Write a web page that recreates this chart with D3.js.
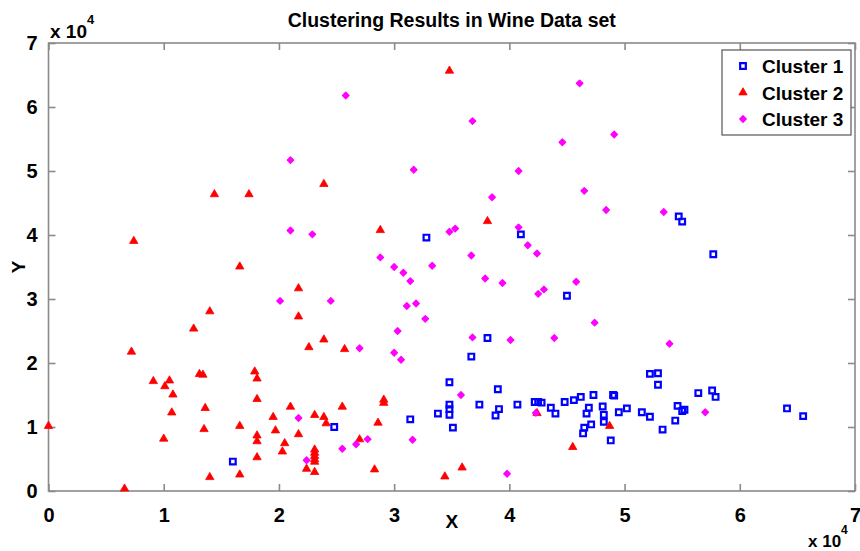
<!DOCTYPE html>
<html>
<head>
<meta charset="utf-8">
<script src="https://cdn.jsdelivr.net/npm/d3@7"></script>
<style>
  body { margin: 0; background: #fff; }
  text { font-family: "Liberation Sans", Arial, sans-serif; font-weight: bold; fill: #000; }
</style>
</head>
<body>
<div id="chart"></div>
<script>
// values in units of x 10^4, as shown on the axes
var cluster1 = [
  [3.28,3.96],[4.10,4.01],[5.47,4.29],[5.50,4.21],[5.77,3.70],[4.50,3.05],[3.81,2.39],[3.67,2.10],
  [3.48,1.70],[3.90,1.59],[3.74,1.35],[3.48,1.35],[3.48,1.28],[3.48,1.19],[3.38,1.21],[3.91,1.28],
  [3.88,1.18],[4.07,1.35],[4.22,1.39],[4.25,1.39],[4.28,1.38],[4.36,1.30],[4.40,1.21],[4.48,1.39],
  [4.56,1.42],[4.62,1.47],[4.73,1.50],[4.90,1.50],[4.91,1.49],[4.69,1.30],[4.67,1.21],[4.81,1.32],
  [4.82,1.19],[4.82,1.08],[4.71,1.04],[4.65,0.99],[4.64,0.90],[4.88,0.79],[4.95,1.23],[5.02,1.29],
  [5.15,1.23],[5.22,1.16],[5.33,0.96],[5.44,1.10],[5.46,1.33],[5.50,1.25],[5.52,1.27],[5.64,1.53],
  [5.76,1.57],[5.79,1.47],[5.22,1.83],[5.29,1.84],[5.29,1.66],[6.41,1.29],[6.55,1.17],[2.48,1.00],
  [3.14,1.12],[3.51,0.99],[1.60,0.46]
];
var cluster2 = [
  [0.74,3.89],[1.44,4.62],[1.74,4.62],[1.66,3.49],[3.48,6.55],[2.39,4.78],[3.81,4.20],[2.88,4.06],
  [2.17,3.15],[2.17,2.71],[1.40,2.79],[1.26,2.52],[0.72,2.16],[2.26,2.23],[2.39,2.35],[2.57,2.20],
  [0.91,1.70],[1.05,1.71],[1.01,1.62],[1.08,1.49],[1.31,1.81],[1.34,1.80],[1.79,1.85],[1.81,1.74],
  [1.81,1.42],[1.07,1.21],[1.36,1.28],[1.35,0.95],[1.66,1.00],[1.00,0.80],[1.95,1.14],[2.10,1.30],
  [2.31,1.17],[2.39,1.14],[2.41,1.04],[1.97,0.93],[2.17,0.87],[1.81,0.85],[1.81,0.76],[2.05,0.73],
  [2.03,0.60],[1.81,0.51],[1.66,0.24],[1.40,0.20],[0.66,0.02],[0.00,1.00],[2.24,0.33],[2.31,0.28],
  [2.31,0.63],[2.31,0.58],[2.31,0.53],[2.31,0.48],[2.31,0.44],[2.55,1.30],[2.91,1.41],[2.91,1.36],
  [2.86,1.05],[2.70,0.79],[2.83,0.32],[3.44,0.21],[3.59,0.35],[4.24,1.20],[4.55,0.67],[4.87,1.00]
];
var cluster3 = [
  [2.10,5.17],[2.10,4.07],[2.29,4.01],[2.58,6.18],[3.68,5.78],[4.46,5.45],[4.61,6.37],[3.17,5.02],
  [4.08,5.00],[3.85,4.59],[3.48,4.05],[3.53,4.10],[4.08,4.12],[4.16,3.84],[4.24,3.71],[2.88,3.65],
  [3.67,3.68],[3.00,3.50],[3.33,3.52],[4.91,5.57],[4.65,4.69],[4.84,4.39],[5.34,4.36],[3.08,3.41],
  [3.14,3.28],[3.79,3.32],[3.94,3.25],[4.25,3.08],[4.30,3.15],[4.58,3.27],[2.45,2.97],[3.11,2.89],
  [3.19,2.93],[3.27,2.69],[3.03,2.50],[3.68,2.40],[4.01,2.36],[4.39,2.39],[2.70,2.23],[3.00,2.16],
  [3.06,2.05],[3.58,1.50],[4.23,1.22],[3.16,0.80],[2.77,0.81],[2.67,0.73],[2.55,0.66],[2.24,0.48],
  [3.98,0.27],[2.01,2.97],[2.17,1.14],[4.74,2.63],[5.39,2.30],[5.70,1.23]
];
var xTicks = [0, 1, 2, 3, 4, 5, 6, 7];
var yTicks = [0, 1, 2, 3, 4, 5, 6, 7];
var seriesNames = ["Cluster 1", "Cluster 2", "Cluster 3"];

var width = 860, height = 551;
var margin = {left: 48.5, right: 5, top: 43, bottom: 60};
var axisColor = "#8a8a8a";

var svg = d3.select("#chart").append("svg")
    .attr("width", width)
    .attr("height", height);

var x = d3.scaleLinear().domain([0, 7]).range([margin.left, width - margin.right]);
var y = d3.scaleLinear().domain([0, 7]).range([height - margin.bottom, margin.top]);

// axes box
svg.append("rect")
   .attr("x", x(0)).attr("y", y(7))
   .attr("width", x(7) - x(0)).attr("height", y(0) - y(7))
   .attr("fill", "none")
   .attr("stroke", axisColor)
   .attr("stroke-width", 1.6);

// ticks, pointing inward on all four sides
function styleAxis(g) {
    g.select(".domain").remove();
    g.selectAll(".tick line").attr("stroke", axisColor).attr("stroke-width", 1.6);
    g.selectAll(".tick text").attr("font-size", "20px").attr("fill", "#000");
}
svg.append("g").attr("transform", "translate(0," + y(0) + ")")
   .call(d3.axisBottom(x).tickValues(xTicks).tickSizeInner(-7).tickPadding(17).tickFormat(d3.format("d")))
   .call(styleAxis);
svg.append("g").attr("transform", "translate(0," + y(7) + ")")
   .call(d3.axisTop(x).tickValues(xTicks).tickSizeInner(-7).tickFormat(""))
   .call(styleAxis);
svg.append("g").attr("transform", "translate(" + x(0) + ",0)")
   .call(d3.axisLeft(y).tickValues(yTicks).tickSizeInner(-7).tickPadding(11).tickFormat(d3.format("d")))
   .call(styleAxis);
svg.append("g").attr("transform", "translate(" + x(7) + ",0)")
   .call(d3.axisRight(y).tickValues(yTicks).tickSizeInner(-7).tickFormat(""))
   .call(styleAxis);
svg.selectAll("text").attr("font-family", null);

// markers
var squareSym = d3.symbol().type(d3.symbolSquare).size(32);
var triSym = d3.symbol().type(d3.symbolTriangle).size(30);
var diaSym = d3.symbol().type(d3.symbolDiamond2).size(26);

function drawSquare(g) {
    g.attr("d", squareSym).attr("fill", "none").attr("stroke", "#0000ff").attr("stroke-width", 2.2);
}
function drawTriangle(g) {
    g.attr("d", triSym).attr("fill", "#ff0000").attr("stroke", "#ff0000").attr("stroke-width", 0.8);
}
function drawDiamond(g) {
    g.attr("d", diaSym).attr("fill", "#ff00ff").attr("stroke", "#ff00ff").attr("stroke-width", 1.4)
     .attr("stroke-linejoin", "round");
}

svg.append("g").selectAll("path").data(cluster1).enter().append("path")
   .attr("transform", function(d) { return "translate(" + x(d[0]) + "," + y(d[1]) + ")"; })
   .call(drawSquare);
svg.append("g").selectAll("path").data(cluster2).enter().append("path")
   .attr("transform", function(d) { return "translate(" + x(d[0]) + "," + (y(d[1]) - 1) + ")"; })
   .call(drawTriangle);
svg.append("g").selectAll("path").data(cluster3).enter().append("path")
   .attr("transform", function(d) { return "translate(" + x(d[0]) + "," + y(d[1]) + ")"; })
   .call(drawDiamond);

// title and labels
svg.append("text")
   .attr("x", (x(0) + x(7)) / 2).attr("y", 27)
   .attr("text-anchor", "middle").attr("font-size", "19.5px")
   .text("Clustering Results in Wine Data set");
svg.append("text")
   .attr("x", (x(0) + x(7)) / 2).attr("y", 528)
   .attr("text-anchor", "middle").attr("font-size", "19px")
   .text("X");
svg.append("text")
   .attr("transform", "translate(25," + ((y(0) + y(7)) / 2) + ") rotate(-90)")
   .attr("text-anchor", "middle").attr("font-size", "19px")
   .text("Y");

// exponent labels
var expTop = svg.append("text").attr("x", 50).attr("y", 38).attr("font-size", "19px");
expTop.append("tspan").text("x 10");
expTop.append("tspan").attr("dy", -14).attr("font-size", "13px").text("4");
var expBottom = svg.append("text").attr("x", 808).attr("y", 547).attr("font-size", "17px");
expBottom.append("tspan").text("x 10");
expBottom.append("tspan").attr("dy", -13).attr("font-size", "12px").text("4");

// legend
var legend = svg.append("g").attr("transform", "translate(722,50)");
legend.append("rect")
   .attr("width", 129).attr("height", 85)
   .attr("fill", "#fff").attr("stroke", "#555").attr("stroke-width", 1.2);
var drawers = [drawSquare, drawTriangle, drawDiamond];
seriesNames.forEach(function(name, i) {
    var cy = 16 + i * 26.5;
    legend.append("path").attr("transform", "translate(21," + cy + ")").call(drawers[i]);
    legend.append("text").attr("x", 40).attr("y", cy + 7)
          .attr("font-size", "19px").text(name);
});
</script>
</body>
</html>
